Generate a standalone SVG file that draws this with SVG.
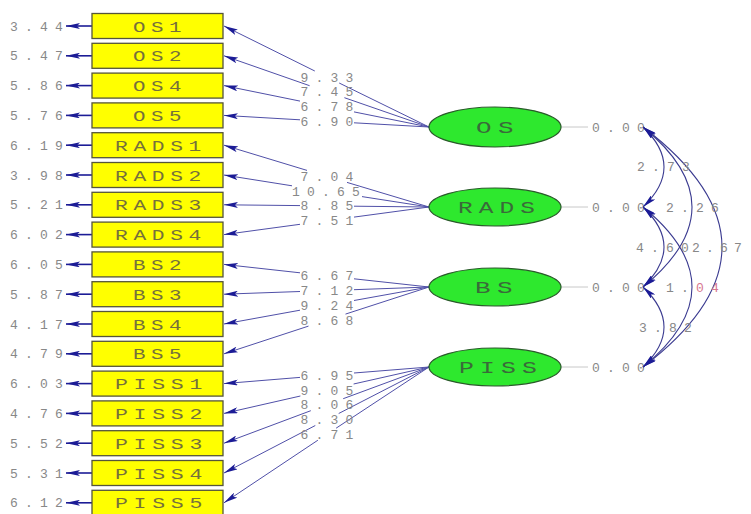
<svg xmlns="http://www.w3.org/2000/svg" width="751" height="514" viewBox="0 0 751 514">
<style>
.box{fill:#ffff00;stroke:#55553a;stroke-width:1.3}
.blab{font-family:"Liberation Mono",monospace;font-size:15px;letter-spacing:4px;fill:#75703c}
.num{font-family:"Liberation Mono",monospace;font-size:13px;letter-spacing:7.2px;fill:#888888}
.ell{fill:#2ee82e;stroke:#2a5a2a;stroke-width:1.2}
.elab{font-family:"Liberation Mono",monospace;font-size:16px;letter-spacing:4px;fill:#3a6a3a}
.ld{stroke:#5050a8;stroke-width:1;fill:none}
.err{stroke:#1c1c96;stroke-width:1.6;fill:none}
.cov{stroke:#3a3a90;stroke-width:1.1;fill:none}
.var{stroke:#c8c8c8;stroke-width:1}
</style>
<defs>
<marker id="ah" viewBox="0 0 14 6" refX="14" refY="3" markerWidth="14" markerHeight="6" markerUnits="userSpaceOnUse" orient="auto-start-reverse">
<path d="M0,0 L14,3 L0,6 L3,3 z" fill="#1c1c96"/>
</marker>
</defs>
<rect width="751" height="514" fill="#ffffff"/>

<g id="connectors">
<g class="err" marker-end="url(#ah)">
<line x1="92" y1="26" x2="66" y2="26"/>
<line x1="92" y1="55.8" x2="66" y2="55.8"/>
<line x1="92" y1="85.6" x2="66" y2="85.6"/>
<line x1="92" y1="115.4" x2="66" y2="115.4"/>
<line x1="92" y1="145.2" x2="66" y2="145.2"/>
<line x1="92" y1="175" x2="66" y2="175"/>
<line x1="92" y1="204.8" x2="66" y2="204.8"/>
<line x1="92" y1="234.6" x2="66" y2="234.6"/>
<line x1="92" y1="264.4" x2="66" y2="264.4"/>
<line x1="92" y1="294.2" x2="66" y2="294.2"/>
<line x1="92" y1="324" x2="66" y2="324"/>
<line x1="92" y1="353.8" x2="66" y2="353.8"/>
<line x1="92" y1="383.6" x2="66" y2="383.6"/>
<line x1="92" y1="413.4" x2="66" y2="413.4"/>
<line x1="92" y1="443.2" x2="66" y2="443.2"/>
<line x1="92" y1="473" x2="66" y2="473"/>
<line x1="92" y1="502.8" x2="66" y2="502.8"/>
</g>
<g class="ld" marker-end="url(#ah)">
<line x1="314.8" y1="71" x2="224" y2="26"/>
<line x1="309.6" y1="85.7" x2="224" y2="55.8"/>
<line x1="300" y1="101.1" x2="224" y2="85.6"/>
<line x1="300" y1="119.8" x2="224" y2="115.4"/>
<line x1="307" y1="170.4" x2="224" y2="145.2"/>
<line x1="292" y1="185.8" x2="224" y2="175"/>
<line x1="300" y1="205.6" x2="224" y2="204.8"/>
<line x1="300" y1="224.3" x2="224" y2="234.6"/>
<line x1="300" y1="272.8" x2="224" y2="264.4"/>
<line x1="300" y1="291.5" x2="224" y2="294.2"/>
<line x1="300" y1="310.2" x2="224" y2="324"/>
<line x1="308.5" y1="326.1" x2="224" y2="353.8"/>
<line x1="300" y1="377.4" x2="224" y2="383.6"/>
<line x1="300.4" y1="396" x2="224" y2="413.4"/>
<line x1="310.8" y1="410.7" x2="224" y2="443.2"/>
<line x1="315.3" y1="425.5" x2="224" y2="473"/>
<line x1="317.9" y1="440.2" x2="224" y2="502.8"/>
</g>
<g class="ld">
<line x1="429" y1="127" x2="339.2" y2="83"/>
<line x1="429" y1="127" x2="344.4" y2="97.7"/>
<line x1="429" y1="127" x2="354" y2="111.9"/>
<line x1="429" y1="127" x2="354" y2="122.8"/>
<line x1="429" y1="207" x2="347" y2="182.4"/>
<line x1="429" y1="207" x2="362" y2="196.6"/>
<line x1="429" y1="207" x2="354" y2="206.2"/>
<line x1="429" y1="207" x2="354" y2="217.1"/>
<line x1="429" y1="287" x2="354" y2="278.8"/>
<line x1="429" y1="287" x2="354" y2="289.7"/>
<line x1="429" y1="287" x2="354" y2="300.5"/>
<line x1="429" y1="287" x2="345.5" y2="314.1"/>
<line x1="429" y1="367" x2="354" y2="373"/>
<line x1="429" y1="367" x2="353.6" y2="384"/>
<line x1="429" y1="367" x2="343.2" y2="398.7"/>
<line x1="429" y1="367" x2="338.7" y2="413.5"/>
<line x1="429" y1="367" x2="336.1" y2="428.2"/>
</g>
<g class="num">
<text x="300.5" y="81.5">9.33</text>
<text x="300.5" y="96.2">7.45</text>
<text x="300.5" y="111">6.78</text>
<text x="300.5" y="125.8">6.90</text>
<text x="300.5" y="180.9">7.04</text>
<text x="292" y="195.7">10.65</text>
<text x="300.5" y="210.4">8.85</text>
<text x="300.5" y="225.2">7.51</text>
<text x="300.5" y="280.3">6.67</text>
<text x="300.5" y="295.1">7.12</text>
<text x="300.5" y="309.8">9.24</text>
<text x="300.5" y="324.6">8.68</text>
<text x="300.5" y="379.7">6.95</text>
<text x="300.5" y="394.5">9.05</text>
<text x="300.5" y="409.2">8.06</text>
<text x="300.5" y="424">8.30</text>
<text x="300.5" y="438.7">6.71</text>
</g>
<g class="var">
<line x1="561" y1="127" x2="588" y2="127"/>
<line x1="561" y1="207" x2="588" y2="207"/>
<line x1="561" y1="287" x2="588" y2="287"/>
<line x1="561" y1="367" x2="588" y2="367"/>
</g>
<g class="num">
<text x="592" y="131.5">0.00</text>
<text x="592" y="211.5">0.00</text>
<text x="592" y="291.5">0.00</text>
<text x="592" y="371.5">0.00</text>
</g>
<g class="cov" marker-start="url(#ah)" marker-end="url(#ah)">
<path d="M643,127 Q685,167 643,207"/>
<path d="M643,207 Q685,247 643,287"/>
<path d="M643,287 Q685,327 643,367"/>
<path d="M643,127 Q741,207 643,287"/>
<path d="M643,207 Q741,287 643,367"/>
<path d="M643,127 Q801,247 643,367"/>
</g>
<g class="num">
<text x="637" y="170.5">2.73</text>
<text x="666" y="211.5">2.26</text>
<text x="636 651 666 681" y="251.5" style="letter-spacing:0">4.60</text>
<text x="692 706 720 734" y="251.5" style="letter-spacing:0">2.67</text>
<text x="666" y="291.5">1.<tspan fill="#d87890">04</tspan></text>
<text x="639" y="331.5">3.82</text>
</g>
</g>

<g id="OS1"><rect class="box" x="92" y="13.5" width="131" height="25"/><text class="blab" x="133" y="31.5" textLength="54" lengthAdjust="spacingAndGlyphs">OS1</text><text class="num" x="10" y="30.5">3.44</text></g>
<g id="OS2"><rect class="box" x="92" y="43.3" width="131" height="25"/><text class="blab" x="133" y="61.3" textLength="54" lengthAdjust="spacingAndGlyphs">OS2</text><text class="num" x="10" y="60.3">5.47</text></g>
<g id="OS4"><rect class="box" x="92" y="73.1" width="131" height="25"/><text class="blab" x="133" y="91.1" textLength="54" lengthAdjust="spacingAndGlyphs">OS4</text><text class="num" x="10" y="90.1">5.86</text></g>
<g id="OS5"><rect class="box" x="92" y="102.9" width="131" height="25"/><text class="blab" x="133" y="120.9" textLength="54" lengthAdjust="spacingAndGlyphs">OS5</text><text class="num" x="10" y="119.9">5.76</text></g>
<g id="RADS1"><rect class="box" x="92" y="132.7" width="131" height="25"/><text class="blab" x="115" y="150.7" textLength="92" lengthAdjust="spacingAndGlyphs">RADS1</text><text class="num" x="10" y="149.7">6.19</text></g>
<g id="RADS2"><rect class="box" x="92" y="162.5" width="131" height="25"/><text class="blab" x="115" y="180.5" textLength="92" lengthAdjust="spacingAndGlyphs">RADS2</text><text class="num" x="10" y="179.5">3.98</text></g>
<g id="RADS3"><rect class="box" x="92" y="192.3" width="131" height="25"/><text class="blab" x="115" y="210.3" textLength="92" lengthAdjust="spacingAndGlyphs">RADS3</text><text class="num" x="10" y="209.3">5.21</text></g>
<g id="RADS4"><rect class="box" x="92" y="222.1" width="131" height="25"/><text class="blab" x="115" y="240.1" textLength="92" lengthAdjust="spacingAndGlyphs">RADS4</text><text class="num" x="10" y="239.1">6.02</text></g>
<g id="BS2"><rect class="box" x="92" y="251.9" width="131" height="25"/><text class="blab" x="133" y="269.9" textLength="54" lengthAdjust="spacingAndGlyphs">BS2</text><text class="num" x="10" y="268.9">6.05</text></g>
<g id="BS3"><rect class="box" x="92" y="281.7" width="131" height="25"/><text class="blab" x="133" y="299.7" textLength="54" lengthAdjust="spacingAndGlyphs">BS3</text><text class="num" x="10" y="298.7">5.87</text></g>
<g id="BS4"><rect class="box" x="92" y="311.5" width="131" height="25"/><text class="blab" x="133" y="329.5" textLength="54" lengthAdjust="spacingAndGlyphs">BS4</text><text class="num" x="10" y="328.5">4.17</text></g>
<g id="BS5"><rect class="box" x="92" y="341.3" width="131" height="25"/><text class="blab" x="133" y="359.3" textLength="54" lengthAdjust="spacingAndGlyphs">BS5</text><text class="num" x="10" y="358.3">4.79</text></g>
<g id="PISS1"><rect class="box" x="92" y="371.1" width="131" height="25"/><text class="blab" x="115" y="389.1" textLength="93" lengthAdjust="spacingAndGlyphs">PISS1</text><text class="num" x="10" y="388.1">6.03</text></g>
<g id="PISS2"><rect class="box" x="92" y="400.9" width="131" height="25"/><text class="blab" x="115" y="418.9" textLength="93" lengthAdjust="spacingAndGlyphs">PISS2</text><text class="num" x="10" y="417.9">4.76</text></g>
<g id="PISS3"><rect class="box" x="92" y="430.7" width="131" height="25"/><text class="blab" x="115" y="448.7" textLength="93" lengthAdjust="spacingAndGlyphs">PISS3</text><text class="num" x="10" y="447.7">5.52</text></g>
<g id="PISS4"><rect class="box" x="92" y="460.5" width="131" height="25"/><text class="blab" x="115" y="478.5" textLength="93" lengthAdjust="spacingAndGlyphs">PISS4</text><text class="num" x="10" y="477.5">5.31</text></g>
<g id="PISS5"><rect class="box" x="92" y="490.3" width="131" height="25"/><text class="blab" x="115" y="508.3" textLength="93" lengthAdjust="spacingAndGlyphs">PISS5</text><text class="num" x="10" y="507.3">6.12</text></g>

<g id="OS"><ellipse class="ell" cx="495" cy="127" rx="66" ry="20"/><text class="elab" x="476" y="132.5" textLength="44" lengthAdjust="spacingAndGlyphs">OS</text></g>
<g id="RADS"><ellipse class="ell" cx="495" cy="207" rx="66" ry="19"/><text class="elab" x="458" y="212.5" textLength="83" lengthAdjust="spacingAndGlyphs">RADS</text></g>
<g id="BS"><ellipse class="ell" cx="495" cy="287" rx="66" ry="19"/><text class="elab" x="475" y="292.5" textLength="44" lengthAdjust="spacingAndGlyphs">BS</text></g>
<g id="PISS"><ellipse class="ell" cx="495" cy="367" rx="66" ry="19"/><text class="elab" x="459" y="372.5" textLength="84" lengthAdjust="spacingAndGlyphs">PISS</text></g>
</svg>
